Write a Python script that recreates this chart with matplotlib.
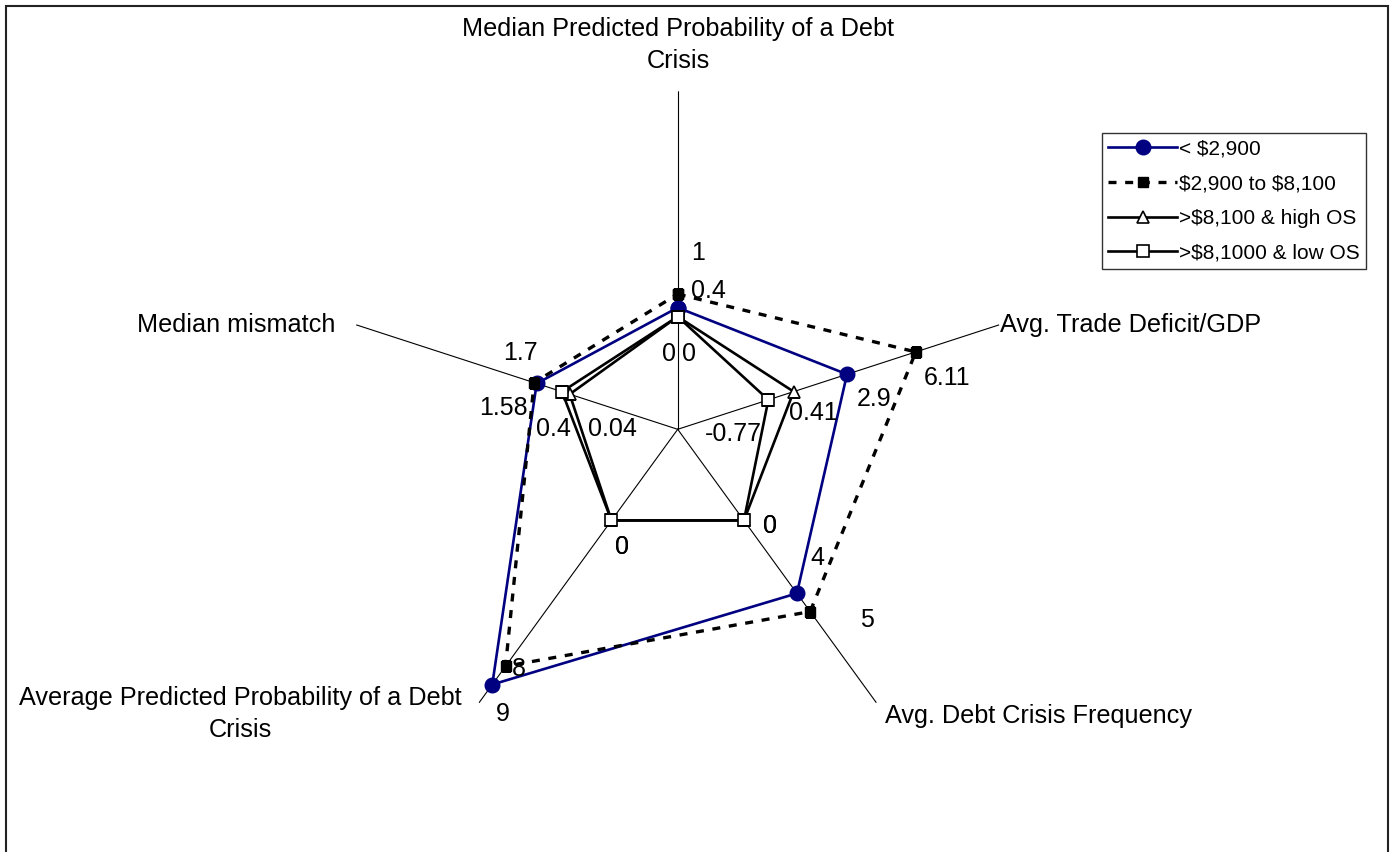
import numpy as np
import matplotlib
matplotlib.use("Agg")
import matplotlib.pyplot as plt
from matplotlib.patches import Rectangle

# ---------------- data ----------------
categories = [
    "Median Predicted Probability of a Debt\nCrisis",
    "Avg. Trade Deficit/GDP",
    "Avg. Debt Crisis Frequency",
    "Average Predicted Probability of a Debt\nCrisis",
    "Median mismatch",
]
series_names = ["< $2,900", "$2,900 to $8,100", ">$8,100 & high OS", ">$8,1000 & low OS"]
low_income = [0.4, 2.9, 4, 9, 1.58]
mid_income = [1, 6.11, 5, 8, 1.7]
high_os = [0, 0.41, 0, 0, 0.04]
low_os = [0, -0.77, 0, 0, 0.4]
r_min, r_max = -5, 10

# ---------------- figure ----------------
plt.rcParams["font.family"] = ["Liberation Sans", "DejaVu Sans"]
W, H = 1393, 852
fig = plt.figure(figsize=(W / 100, H / 100), dpi=100)
fig.patch.set_facecolor("white")

cx, cy, R = 677.7, 429.3, 338.0
ax = fig.add_axes([(cx - R) / W, (H - cy - R) / H, 2 * R / W, 2 * R / H], projection="polar")
ax.set_theta_offset(np.pi / 2)
ax.set_theta_direction(-1)
ax.set_ylim(r_min, r_max)
ax.grid(False)
ax.spines["polar"].set_visible(False)
ax.set_xticks([])
ax.set_yticks([])
ax.patch.set_alpha(0)

n = len(categories)
angles = np.arange(n) * 2 * np.pi / n

# spokes
for a in angles:
    ax.plot([a, a], [r_min, r_max], color="black", lw=0.8, zorder=1)

closed = lambda v: list(v) + [v[0]]
ang_c = list(angles) + [angles[0]]

styles = [
    dict(color="#000080", lw=1.9, ls="-", marker="o", ms=10.5, mfc="#000080", mec="#000080"),
    dict(color="black", lw=2.4, ls=(0, (2.4, 2.6)), marker="s", ms=7.5, mfc="black", mec="black"),
    dict(color="black", lw=1.9, ls="-", marker="^", ms=9, mfc="white", mec="black", mew=1.2),
    dict(color="black", lw=1.9, ls="-", marker="s", ms=8, mfc="white", mec="black", mew=1.2),
]
all_series = [low_income, mid_income, high_os, low_os]
handles = []
for vals, st, name in zip(all_series, styles, series_names):
    h, = ax.plot(ang_c, closed(vals), label=name.replace("$", r"\$"), zorder=3, **st)
    handles.append(h)

# data labels: offsets in pixels (dx right, dy down) per series per axis
label_offsets = [
    [(31, -17), (27, 25), (20, -35), (11, 29), (-33, 25)],    # < $2,900
    [(20, -41), (31, 26), (57, 8), (13, 3), (-14, -30)],      # $2,900 to $8,100
    [(11, 37), (20, 21), (26, 6), (11, 27), (43, 35)],        # high OS
    [(-9, 37), (-35, 34), (26, 6), (11, 27), (-9, 37)],       # low OS
]
for vals, offs in zip(all_series, label_offsets):
    for a, v, (dx, dy) in zip(angles, vals, offs):
        ax.annotate(f"{v:g}", xy=(a, v), xytext=(dx * 0.72, -dy * 0.72),
                    textcoords="offset points", ha="center", va="center",
                    fontsize=18, color="black", zorder=5, annotation_clip=False)

# category labels
def px(x, y):
    return x / W, 1 - y / H

cat_fs = 18.2
fig.text(*px(678, 45), categories[0], ha="center", va="center", fontsize=cat_fs, linespacing=1.45)
fig.text(*px(1000, 325), categories[1], ha="left", va="center", fontsize=cat_fs)
fig.text(*px(885, 716), categories[2], ha="left", va="center", fontsize=cat_fs)
fig.text(*px(240, 714), categories[3], ha="center", va="center", fontsize=cat_fs, linespacing=1.4)
fig.text(*px(335, 325), categories[4], ha="right", va="center", fontsize=cat_fs)

# legend
leg = fig.legend(handles=handles, loc="upper left", bbox_to_anchor=px(1102, 133),
                 fontsize=15, frameon=True, fancybox=False, handlelength=3.3,
                 handletextpad=0.1, labelspacing=0.76, borderpad=0.3, borderaxespad=0)
leg.get_frame().set_edgecolor("black")
leg.get_frame().set_linewidth(1.0)

# chart-area border
fig.add_artist(Rectangle((6 / W, -0.01), (1388 - 6) / W, 1 - 6 / H + 0.01,
                         transform=fig.transFigure, fill=False, edgecolor="#222222", lw=1.5))

fig.savefig("out.png", dpi=100)
